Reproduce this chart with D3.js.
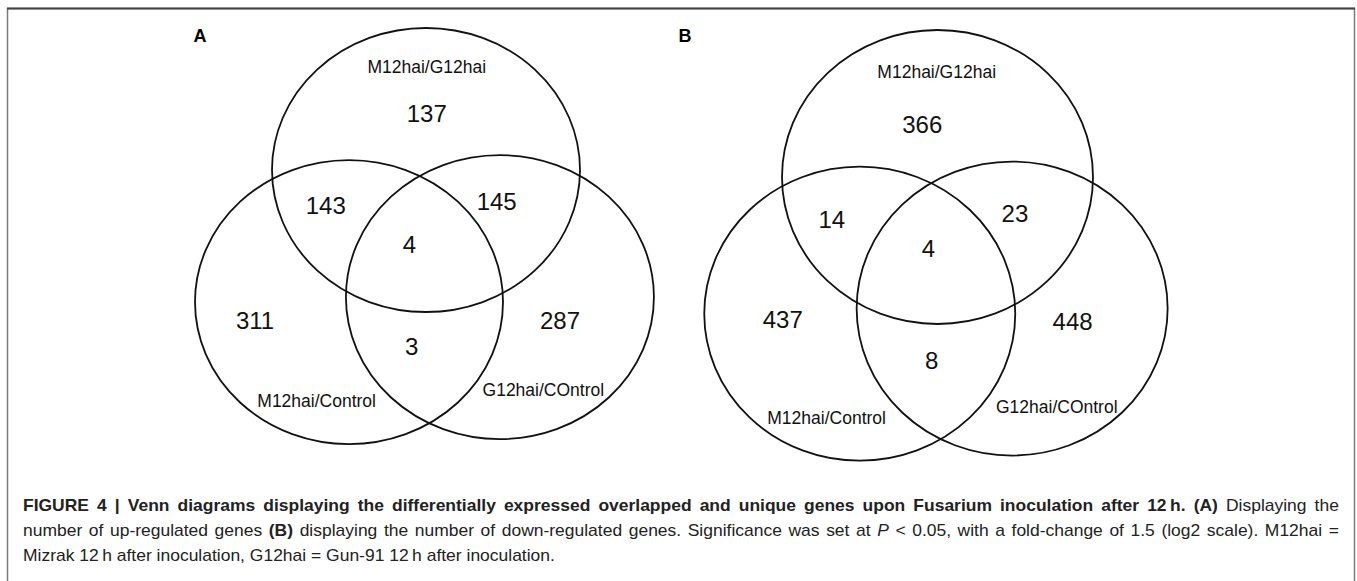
<!DOCTYPE html>
<html>
<head>
<meta charset="utf-8">
<script src="https://cdn.jsdelivr.net/npm/d3@7/dist/d3.min.js"></script>
<style>
  html, body { margin: 0; padding: 0; background: #fff; }
  svg { display: block; }
  text { font-family: "Liberation Sans", Arial, Helvetica, sans-serif; }
</style>
</head>
<body>
<svg id="fig" width="1357" height="581"></svg>
<script>
// ---- data -------------------------------------------------------------
const setNames = ["M12hai/G12hai", "M12hai/Control", "G12hai/COntrol"];
// region keys: which sets a region belongs to (T = top, L = left, R = right)
const regions = ["T", "TL", "TR", "TLR", "L", "R", "LR"];
const upCounts = [137, 143, 145, 4, 311, 287, 3];     // panel A, up-regulated
const downCounts = [366, 14, 23, 4, 437, 448, 8];     // panel B, down-regulated
const panelLetters = ["A", "B"];

// ---- layout -----------------------------------------------------------
// circle centres in units of the radius, top circle at origin
const circleUnits = { T: [0, 0], L: [-0.5, 0.93], R: [0.48, 0.895] };

const panels = [
  { letter: panelLetters[0], counts: upCounts,
    cx: 426, cy: 170, rx: 154, ry: 142, letterPos: [200, 35],
    labelUnits: { T: [0.005, -0.40], TL: [-0.651, 0.246], TR: [0.459, 0.223], TLR: [-0.108, 0.521],
                  L: [-1.11, 1.056], R: [0.870, 1.056], LR: [-0.093, 1.239] },
    nameUnits: [[0.005, -0.727], [-0.71, 1.627], [0.762, 1.549]] },
  { letter: panelLetters[1], counts: downCounts,
    cx: 937.5, cy: 177, rx: 155.5, ry: 147, letterPos: [685, 35],
    labelUnits: { T: [-0.098, -0.358], TL: [-0.680, 0.288], TR: [0.498, 0.247], TLR: [-0.059, 0.485],
                  L: [-0.995, 0.966], R: [0.869, 0.980], LR: [-0.037, 1.245] },
    nameUnits: [[-0.005, -0.716], [-0.713, 1.637], [0.767, 1.563]] }
];

const svg = d3.select("#fig");

// frame around the figure (open at the bottom)
svg.append("path")
  .attr("d", "M7.5,600 V8.5 H1354.5 V600")
  .attr("fill", "none").attr("stroke", "#7a7a7a").attr("stroke-width", 1.5);
svg.append("line")
  .attr("x1", 7).attr("x2", 1355).attr("y1", 8.5).attr("y2", 8.5)
  .attr("stroke", "#444").attr("stroke-width", 2);

panels.forEach(p => {
  const x = d3.scaleLinear().domain([0, 1]).range([p.cx, p.cx + p.rx]);
  const y = d3.scaleLinear().domain([0, 1]).range([p.cy, p.cy + p.ry]);
  const g = svg.append("g");

  g.selectAll("ellipse")
    .data(["T", "L", "R"])
    .join("ellipse")
    .attr("cx", k => x(circleUnits[k][0]))
    .attr("cy", k => y(circleUnits[k][1]))
    .attr("rx", x(1) - x(0))
    .attr("ry", y(1) - y(0))
    .attr("fill", "none")
    .attr("stroke", "#111")
    .attr("stroke-width", 1.8);

  g.selectAll("text.count")
    .data(regions.map((k, i) => ({ k, v: p.counts[i] })))
    .join("text")
    .attr("class", "count")
    .attr("x", d => x(p.labelUnits[d.k][0]))
    .attr("y", d => y(p.labelUnits[d.k][1]) + 8.6)
    .attr("text-anchor", "middle")
    .attr("font-size", 24)
    .attr("fill", "#111")
    .text(d => d.v);

  g.selectAll("text.setname")
    .data(setNames.map((n, i) => ({ n, u: p.nameUnits[i] })))
    .join("text")
    .attr("class", "setname")
    .attr("x", d => x(d.u[0]))
    .attr("y", d => y(d.u[1]) + 6.2)
    .attr("text-anchor", "middle")
    .attr("font-size", 17.5)
    .attr("fill", "#111")
    .text(d => d.n);

  g.append("text")
    .attr("x", p.letterPos[0]).attr("y", p.letterPos[1] + 6.6)
    .attr("text-anchor", "middle")
    .attr("font-size", 18).attr("font-weight", "bold")
    .attr("fill", "#000")
    .text(p.letter);
});

// ---- caption (justified block, last line ragged) ------------------------
const captionLines = [
  [["b", "FIGURE 4 | Venn diagrams displaying the differentially expressed overlapped and unique genes upon Fusarium inoculation after 12\u2009h. (A)"],
   ["r", " Displaying the"]],
  [["r", "number of up-regulated genes "], ["b", "(B)"], ["r", " displaying the number of down-regulated genes. Significance was set at "],
   ["i", "P"], ["r", " < 0.05, with a fold-change of 1.5 (log2 scale). M12hai ="]],
  [["r", "Mizrak 12\u2009h after inoculation,"], ["r", " G12hai = Gun-91 12\u2009h after inoculation."]]
];
const captionJustify = [true, true, false];
const captionX = 23, captionRight = 1339;
const captionY0 = 511, captionStep = 25;

const captionTexts = captionLines.map((parts, i) => {
  const g = svg.append("g");
  const t = g.append("text")
    .attr("x", 0).attr("y", 0)
    .attr("font-size", 16)
    .attr("fill", "#222");
  parts.forEach(([style, str]) => {
    const s = t.append("tspan").text(str);
    if (style === "b") s.attr("font-weight", "bold");
    if (style === "i") s.attr("font-style", "italic");
  });
  return { g, t, parts };
});

// condensed glyphs: the opening phrase of the last line sets the squeeze
const phraseWidth = captionTexts[2].t.select("tspan").node().getComputedTextLength();
const sx = 222 / phraseWidth;

captionTexts.forEach(({ g, t, parts }, i) => {
  let s = sx;
  if (captionJustify[i]) {
    const w = t.node().getComputedTextLength();
    const target = (captionRight - captionX) / sx;
    const spaces = parts.map(p => p[1]).join("").split(" ").length - 1;
    if (w < target) {
      t.style("word-spacing", `${(target - w) / spaces}px`);
    } else {
      s = (captionRight - captionX) / w;
    }
  }
  g.attr("transform", `translate(${captionX},${captionY0 + i * captionStep}) scale(${s},1)`);
});
</script>
</body>
</html>
